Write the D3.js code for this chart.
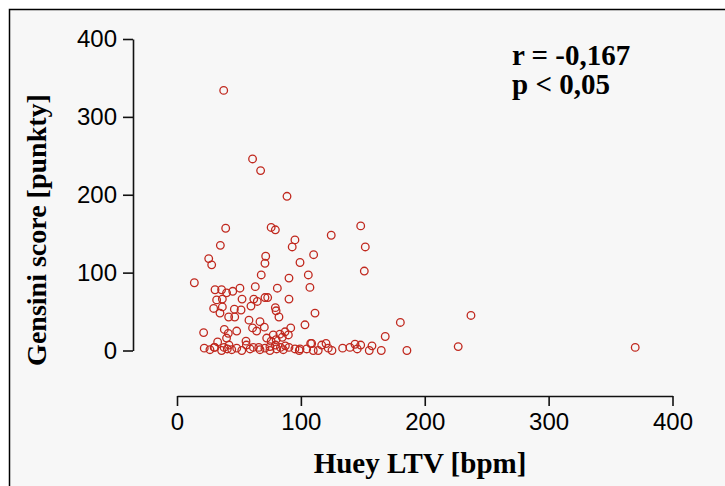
<!DOCTYPE html>
<html>
<head>
<meta charset="utf-8">
<script src="https://cdn.jsdelivr.net/npm/d3@7"></script>
<style>
  body { margin: 0; background: #fff; }
</style>
</head>
<body>
<div id="chart"></div>
<script>
// Huey LTV [bpm] (x) vs Gensini score (y)
const ltv = [
  37.7, 61, 67.5, 88.8, 39.3, 76, 79.4, 148.3, 124.5, 95.2, 93, 152, 35, 25.6, 28,
  71.6, 71, 110.3, 99.3, 14, 68, 106, 90.4, 151.2, 107.3, 63.2, 81, 30.7, 36, 40,
  45, 50.8, 52.5, 36.6, 32, 62, 64.8, 71, 73.2, 90.4, 29.6, 36.6, 34.7, 46.3, 51.7,
  59.7, 79.4, 80, 82.3, 111.4, 41.7, 46.6, 58.1, 67, 61, 64.3, 70.5, 103.3, 91.8, 21.5,
  38.2, 48.2, 41.4, 55.7, 40, 32.8, 72.4, 77.7, 83.1, 87.2, 89.9, 108.7, 180.3, 237.3, 168.1,
  227, 369.9, 185.6, 164.9, 155.2, 157.4, 148.3, 143.7, 145.5, 139.6, 133.7, 125.1, 122.1, 120.3, 116.8,
  114, 110, 107.9, 104.7, 99.3,
  22, 26.6, 30, 36, 40.6, 44.2, 48.2, 52.3, 59, 61.7, 67, 71, 75, 80.4, 85.8, 90.4, 95.2, 98.7,
  38, 42, 30.5, 56, 66, 75, 79.5, 83.5, 87.5, 76, 80, 85
];
const gensini = [
  334, 246, 231, 198, 157, 158, 155, 160, 148, 142, 133, 133, 135, 118, 110,
  121, 112, 123, 113, 87, 97, 97, 93, 102, 81, 82, 80, 78, 78, 74,
  76, 80, 66, 66, 65, 66, 63, 68, 68, 66, 54, 56, 48, 53, 52,
  57, 55, 51, 43, 48, 43, 43, 39, 37, 29, 25, 30, 33, 29, 23,
  27, 25, 22, 12, 16, 11, 16, 20, 21, 24, 20, 9, 36, 45, 18,
  5, 4, 0, 0, 0, 6, 7, 8, 2, 4, 3, 0, 3, 9, 7,
  0, 0, 9, 2, 2,
  3, 1, 4, 0, 2, 1, 3, 0, 2, 4, 1, 3, 0, 2, 1, 4, 2, 0,
  4, 7, 4, 7, 4, 5, 7, 4, 6, 12, 14, 17
];
const xTicks = [0, 100, 200, 300, 400];
const yTicks = [0, 100, 200, 300, 400];
const statLines = ["r = -0,167", "p < 0,05"];

const W = 725, H = 486;

const svg = d3.select("#chart").append("svg")
  .attr("width", W)
  .attr("height", H);

// panel frame
svg.append("rect")
  .attr("x", 9.5).attr("y", 9.5)
  .attr("width", W + 10).attr("height", H + 10)
  .attr("fill", "#f7f7f7")
  .attr("stroke", "#000")
  .attr("stroke-width", 1.5);

const x = d3.scaleLinear().domain([0, 400]).range([177, 672.5]);
const y = d3.scaleLinear().domain([0, 400]).range([350.5, 39]);

// axes (offset from each other)
const gx = svg.append("g")
  .attr("transform", "translate(0,396)")
  .call(d3.axisBottom(x).tickValues(xTicks).tickSize(10).tickSizeOuter(0).tickPadding(7));

const gy = svg.append("g")
  .attr("transform", "translate(133,0)")
  .call(d3.axisLeft(y).tickValues(yTicks).tickSize(10).tickSizeOuter(0).tickPadding(6));

[gx, gy].forEach(g => {
  g.selectAll("path.domain").attr("stroke", "#111").attr("stroke-width", 1.6);
  g.selectAll(".tick line").attr("stroke", "#111").attr("stroke-width", 1.6);
  g.selectAll(".tick text")
    .attr("fill", "#000")
    .style("font-family", "'Liberation Sans', Arial, sans-serif")
    .style("font-size", "24px");
});

// points
svg.append("g").selectAll("circle")
  .data(ltv.map((v, i) => [v, gensini[i]]))
  .enter()
  .append("circle")
  .attr("cx", d => x(d[0]))
  .attr("cy", d => y(d[1]))
  .attr("r", 3.8)
  .attr("fill", "none")
  .attr("stroke", "#c0281e")
  .attr("stroke-width", 1.3);

// axis titles
svg.append("text")
  .attr("x", 420).attr("y", 473)
  .attr("text-anchor", "middle")
  .style("font-family", "'Liberation Serif', 'Times New Roman', serif")
  .style("font-weight", "bold")
  .style("font-size", "29px")
  .text("Huey LTV [bpm]");

svg.append("text")
  .attr("transform", "translate(46,230) rotate(-90)")
  .attr("text-anchor", "middle")
  .style("font-family", "'Liberation Serif', 'Times New Roman', serif")
  .style("font-weight", "bold")
  .style("font-size", "28px")
  .text("Gensini score [punkty]");

// correlation text
svg.append("g").selectAll("text")
  .data(statLines)
  .enter()
  .append("text")
  .attr("x", 512)
  .attr("y", (d, i) => 65 + i * 29)
  .style("font-family", "'Liberation Serif', 'Times New Roman', serif")
  .style("font-weight", "bold")
  .style("font-size", "29px")
  .text(d => d);
</script>
</body>
</html>
